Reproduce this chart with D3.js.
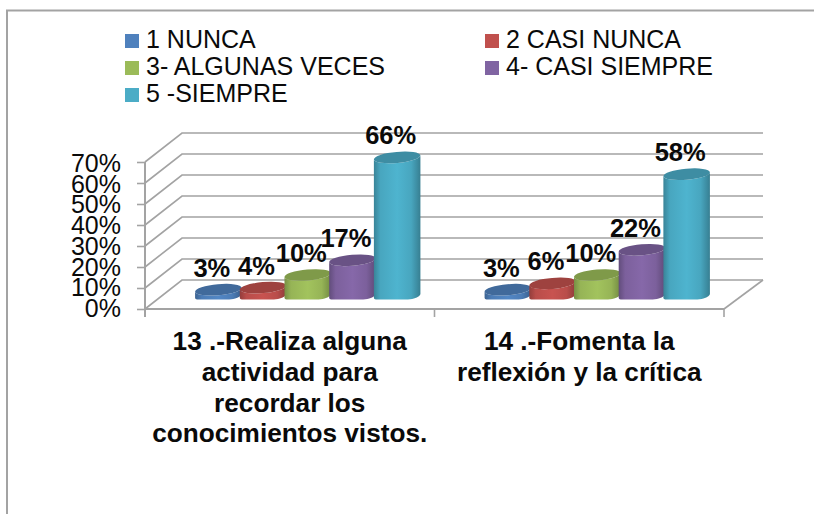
<!DOCTYPE html>
<html><head><meta charset="utf-8">
<style>html,body{margin:0;padding:0;background:#fff;overflow:hidden}svg{display:block}text{font-family:"Liberation Sans",Arial,sans-serif;fill:#0a0a0a}</style>
<script src="https://cdn.jsdelivr.net/npm/d3@7"></script>
</head><body><svg id="c" width="814" height="514"></svg>
<script>
const categories = [
  ["13 .-Realiza alguna","actividad para","recordar los","conocimientos vistos."],
  ["14 .-Fomenta la","reflexión y la crítica"]
];
const seriesNames = ["1 NUNCA","2 CASI NUNCA","3- ALGUNAS VECES","4- CASI SIEMPRE","5 -SIEMPRE"];
const seriesColors = ["#4f81bd","#c0504d","#9bbb59","#8064a2","#4bacc6"];
const values13 = [3,4,10,17,66];
const values14 = [3,6,10,22,58];
const groupValues = [values13,values14];
const yTicks = [0,10,20,30,40,50,60,70];

const svg = d3.select("#c");
const GREY = "#a3a3a3";
const tilt = -5, ry = 5.5, fontAxis = 25;

// chart border (runs off the right and bottom of the picture)
svg.append("path").attr("d","M7,514V10.5H814").attr("fill","none").attr("stroke",GREY).attr("stroke-width",2);

const groupIdx = categories.map((_,i)=>i);
const x = d3.scaleBand().domain(groupIdx).range([145,724]);
const xIn = d3.scaleBand().domain(seriesNames).range([51,274.5]);
const yFront = d3.scaleLinear().domain([0,70]).range([309,162]);
const yBack  = d3.scaleLinear().domain([0,70]).range([280,133]);
const yBar   = d3.scaleLinear().domain([0,70]).range([296,149]);
const yLabel = d3.scaleLinear().domain([0,70]).range([317,172]);
const depthX = 37;

// walls
const grid = svg.append("g").attr("fill","none").attr("stroke",GREY).attr("stroke-width",1.6);
yTicks.forEach(t=>{
  grid.append("path").attr("d",`M${x.range()[0]},${yFront(t)}L${x.range()[0]+depthX},${yBack(t)}H${x.range()[1]+39}`);
});
grid.append("path").attr("d",`M${x.range()[1]},${yFront(0)}L${x.range()[1]+39},${yBack(0)}`);

// axes
const axisY = d3.axisLeft(yFront).tickValues(yTicks).tickSize(8).tickFormat("");
const gy = svg.append("g").attr("transform","translate(145,0)").call(axisY);
gy.selectAll("line").attr("stroke",GREY).attr("stroke-width",1.6);
gy.select(".domain").attr("stroke",GREY).attr("stroke-width",2).attr("d",`M0,${yFront(70)}V317`);
svg.append("g").selectAll("text").data(yTicks).join("text")
  .attr("x",121).attr("y",d=>yLabel(d)).attr("text-anchor","end")
  .attr("font-size",fontAxis).text(d=>d+"%");
const axisX = svg.append("g").attr("stroke",GREY).attr("fill","none");
axisX.append("path").attr("d",`M${x.range()[0]},${yFront(0)}H${x.range()[1]}`).attr("stroke-width",2);
d3.range(categories.length+1).forEach(i=>{
  const px = x.range()[0]+i*x.step();
  axisX.append("path").attr("d",`M${px},${yFront(0)}V317`).attr("stroke-width",1.6);
});

// gradients
const defs = svg.append("defs");
seriesColors.forEach((c,i)=>{
  const g = defs.append("linearGradient").attr("id","g"+i);
  const base = d3.color(c);
  [[0,base.darker(.75)],[.14,base.darker(.1)],[.5,base.brighter(.12)],[.8,base.darker(.1)],[1,base.darker(.85)]]
    .forEach(([o,col])=>g.append("stop").attr("offset",o).attr("stop-color",col));
});
defs.append("clipPath").attr("id","floor").append("rect").attr("width",814).attr("height",299.5);

// bars
const rx = xIn.bandwidth()/2+1;
const rad = tilt*Math.PI/180;
const dx = rx*Math.cos(rad), dy = rx*Math.sin(rad);
const bars = svg.append("g").attr("clip-path","url(#floor)");
groupValues.forEach((vals,gi)=>{
  vals.forEach((v,si)=>{
    const cx = x(gi)+xIn(seriesNames[si])+xIn.bandwidth()/2;
    const top = yBar(v), base = yBar(0);
    bars.append("path")
      .attr("d",`M${cx-dx},${top-dy}L${cx-dx},${base-dy}A${rx},${ry} ${tilt} 0 0 ${cx+dx},${base+dy}L${cx+dx},${top+dy}A${rx},${ry} ${tilt} 0 1 ${cx-dx},${top-dy}Z`)
      .attr("fill",`url(#g${si})`);
    bars.append("ellipse").attr("rx",rx).attr("ry",ry)
      .attr("transform",`translate(${cx},${top}) rotate(${tilt})`)
      .attr("fill",d3.color(seriesColors[si]).darker(.55));
  });
});

// data labels
groupValues.forEach((vals,gi)=>{
  vals.forEach((v,si)=>{
    const cx = x(gi)+xIn(seriesNames[si])+xIn.bandwidth()/2;
    svg.append("text").attr("x",cx-6.5).attr("y",yBar(v)-13)
      .attr("text-anchor","middle").attr("font-size",25.5).attr("font-weight",700).text(v+"%");
  });
});

// category labels
categories.forEach((lines,gi)=>{
  const cx = x(gi)+x.bandwidth()/2;
  lines.forEach((l,j)=>{
    svg.append("text").attr("x",cx).attr("y",350+j*30.8)
      .attr("text-anchor","middle").attr("font-size",26.2).attr("font-weight",700).text(l);
  });
});

// legend
const legendCols = [125,485], legendRows = [48,75,102];
seriesNames.forEach((n,i)=>{
  const lx = legendCols[i%2], ly = legendRows[Math.floor(i/2)];
  svg.append("rect").attr("x",lx).attr("y",ly-14).attr("width",14).attr("height",14).attr("fill",seriesColors[i]);
  svg.append("text").attr("x",lx+21).attr("y",ly).attr("font-size",25).text(n);
});
</script></body></html>
